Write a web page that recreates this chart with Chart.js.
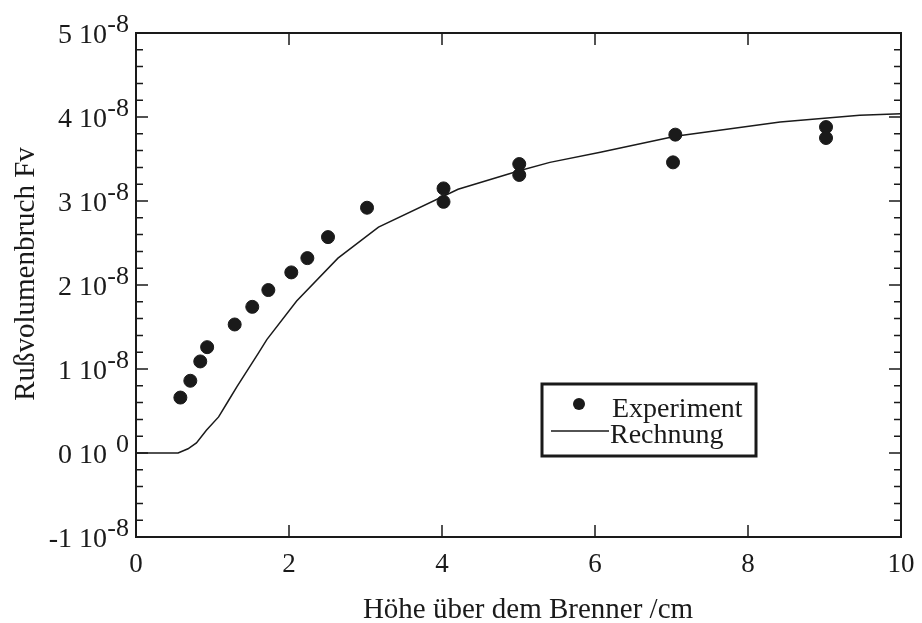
<!DOCTYPE html>
<html>
<head>
<meta charset="utf-8">
<script src="https://cdn.jsdelivr.net/npm/chart.js@4/dist/chart.umd.min.js"></script>
<style>
  html, body { margin: 0; padding: 0; background: #fff; }
  #wrap { width: 922px; height: 623px; }
</style>
</head>
<body>
<div id="wrap"><canvas id="chart" width="922" height="623"></canvas></div>
<script>
  // Experiment: measured soot volume fraction (y in units of 1e-8).
  const expX = [0.58, 0.71, 0.84, 0.93, 1.29, 1.52, 1.73, 2.03, 2.24, 2.51, 3.02, 4.02, 4.02, 5.01, 5.01, 7.05, 7.02, 9.02, 9.02];
  const expY = [0.66, 0.86, 1.09, 1.26, 1.53, 1.74, 1.94, 2.15, 2.32, 2.57, 2.92, 3.15, 2.99, 3.44, 3.31, 3.79, 3.46, 3.88, 3.75];

  // Rechnung: computed curve (y in units of 1e-8).
  const calcX = [0, 0.55, 0.68, 0.79, 0.92, 1.08, 1.20, 1.32, 1.60, 1.71, 2.10, 2.64, 3.17, 4.21, 5.01, 5.41, 6.07, 7.05, 8.42, 9.46, 10];
  const calcY = [0, 0, 0.05, 0.12, 0.27, 0.43, 0.61, 0.79, 1.19, 1.35, 1.81, 2.32, 2.69, 3.14, 3.36, 3.46, 3.58, 3.77, 3.94, 4.02, 4.04];

  // Axis ticks and labels.
  const xTicks = [0, 2, 4, 6, 8, 10];
  const xTickLabels = ['0', '2', '4', '6', '8', '10'];
  const yTicks = [-1, 0, 1, 2, 3, 4, 5];
  const yTickMantissa = ['-1', '0', '1', '2', '3', '4', '5'];
  const yTickExponent = ['-8', '0', '-8', '-8', '-8', '-8', '-8'];

  const xTitle = 'Höhe über dem Brenner /cm';
  const yTitle = 'Rußvolumenbruch Fv';

  const FONT = "'Liberation Serif', 'Times New Roman', serif";

  const toPoints = (xs, ys) => xs.map((x, i) => ({ x: x, y: ys[i] }));

  // Frame, inward ticks, superscript labels, titles and the boxed legend.
  const framePlugin = {
    id: 'frame',
    afterDraw: function (chart) {
      const ctx = chart.ctx;
      const area = chart.chartArea;
      const xs = chart.scales.x;
      const ys = chart.scales.y;

      ctx.save();
      ctx.strokeStyle = '#1a1a1a';
      ctx.fillStyle = '#1a1a1a';

      // Box.
      ctx.lineWidth = 2;
      ctx.strokeRect(area.left, area.top, area.right - area.left, area.bottom - area.top);

      // X ticks (bottom and top, pointing inward).
      ctx.lineWidth = 1.5;
      xTicks.forEach(function (v) {
        const px = xs.getPixelForValue(v);
        ctx.beginPath();
        ctx.moveTo(px, area.bottom);
        ctx.lineTo(px, area.bottom - 12);
        ctx.moveTo(px, area.top);
        ctx.lineTo(px, area.top + 12);
        ctx.stroke();
      });

      // Y ticks, five per unit, left and right.
      for (let i = 0; i <= 30; i++) {
        const v = -1 + i * 0.2;
        const py = ys.getPixelForValue(v);
        const len = i % 5 === 0 ? 12 : 7;
        ctx.beginPath();
        ctx.moveTo(area.left, py);
        ctx.lineTo(area.left + len, py);
        ctx.moveTo(area.right, py);
        ctx.lineTo(area.right - len, py);
        ctx.stroke();
      }

      // X tick labels.
      ctx.font = '27px ' + FONT;
      ctx.textAlign = 'center';
      ctx.textBaseline = 'alphabetic';
      xTicks.forEach(function (v, i) {
        ctx.fillText(xTickLabels[i], xs.getPixelForValue(v), area.bottom + 35);
      });

      // Y tick labels with superscript exponents.
      yTicks.forEach(function (v, i) {
        const py = ys.getPixelForValue(v);
        ctx.textAlign = 'right';
        ctx.font = '28px ' + FONT;
        ctx.fillText(yTickMantissa[i] + ' 10', 107, py + 10);
        ctx.font = '26px ' + FONT;
        ctx.fillText(yTickExponent[i], 129, py - 1);
      });

      // Axis titles.
      ctx.font = '29px ' + FONT;
      ctx.textAlign = 'center';
      ctx.fillText(xTitle, 528, 618);
      ctx.save();
      ctx.translate(34, 274);
      ctx.rotate(-Math.PI / 2);
      ctx.fillText(yTitle, 0, 0);
      ctx.restore();

      // Legend box.
      ctx.lineWidth = 3;
      ctx.strokeRect(542, 384, 214, 72);
      ctx.beginPath();
      ctx.arc(579, 404, 6, 0, Math.PI * 2);
      ctx.fill();
      ctx.lineWidth = 1.5;
      ctx.beginPath();
      ctx.moveTo(551, 431);
      ctx.lineTo(609, 431);
      ctx.stroke();
      ctx.font = '28px ' + FONT;
      ctx.textAlign = 'left';
      ctx.fillText(chart.data.datasets[0].label, 612, 417);
      ctx.fillText(chart.data.datasets[1].label, 610, 443);

      ctx.restore();
    }
  };

  new Chart(document.getElementById('chart').getContext('2d'), {
    type: 'scatter',
    data: {
      datasets: [
        {
          label: 'Experiment',
          data: toPoints(expX, expY),
          backgroundColor: '#1a1a1a',
          borderColor: '#1a1a1a',
          pointRadius: 6.5,
          pointHoverRadius: 6.5,
          order: 1,
        },
        {
          label: 'Rechnung',
          data: toPoints(calcX, calcY),
          showLine: true,
          borderColor: '#1a1a1a',
          borderWidth: 1.5,
          pointRadius: 0,
          tension: 0,
          order: 2,
        },
      ],
    },
    options: {
      responsive: false,
      animation: false,
      layout: {
        padding: { left: 0, right: 21, top: 33, bottom: 0 },
      },
      plugins: {
        legend: { display: false },
        tooltip: { enabled: false },
      },
      scales: {
        x: {
          type: 'linear',
          min: 0,
          max: 10,
          grid: { display: false },
          border: { display: false },
          ticks: { display: false },
          afterFit: function (scale) { scale.height = 86; },
        },
        y: {
          type: 'linear',
          min: -1,
          max: 5,
          grid: { display: false },
          border: { display: false },
          ticks: { display: false },
          afterFit: function (scale) { scale.width = 136; },
        },
      },
    },
    plugins: [framePlugin],
  });
</script>
</body>
</html>
